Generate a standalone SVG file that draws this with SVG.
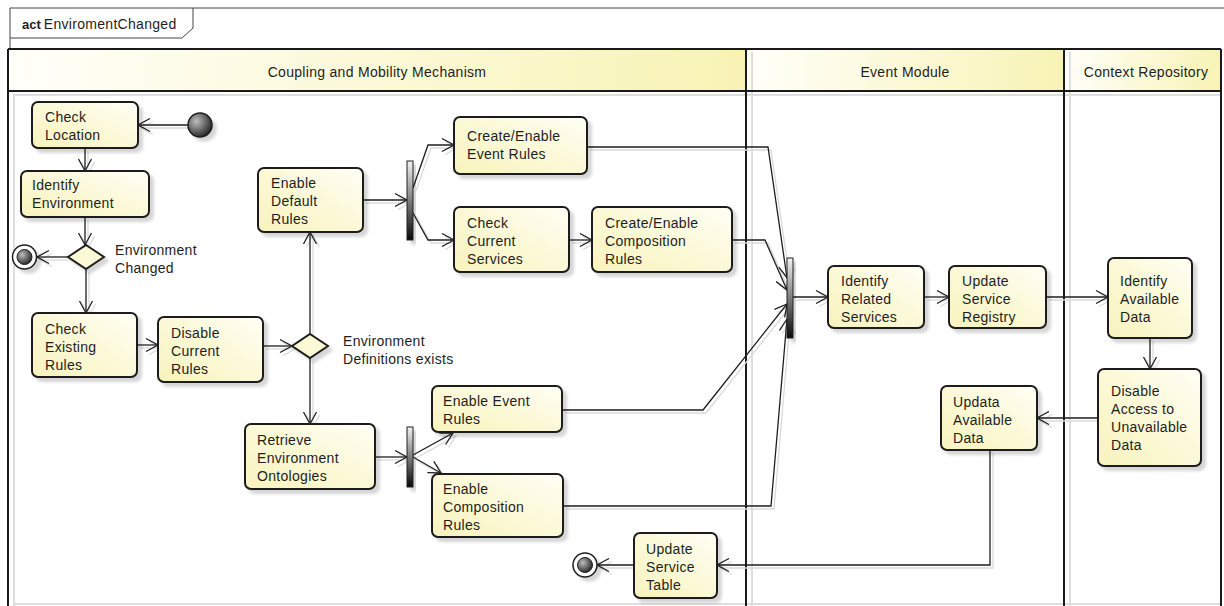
<svg xmlns="http://www.w3.org/2000/svg" xmlns:xlink="http://www.w3.org/1999/xlink" width="1224" height="606" viewBox="0 0 1224 606">
  <style>
    text { font-family: "Liberation Sans", Arial, sans-serif; font-size: 14px; fill: #1e1e1e; letter-spacing: 0.3px; }
    .title-kw { font-weight: bold; letter-spacing: 0; font-size: 13px; }
    .lane-label { text-anchor: middle; }
    .frame { fill: none; stroke: #444; stroke-width: 1; }
    .lane-line { fill: none; stroke: #1a1a1a; stroke-width: 2; }
    .lane-sh { fill: none; stroke: #dedede; stroke-width: 2; }
    .act { fill: url(#nodeFill); stroke: #1e1e1e; stroke-width: 2; filter: url(#drop); }
    .dec { fill: #fcfad6; stroke: #1e1e1e; stroke-width: 2; filter: url(#drop); }
    .bar { fill: url(#barFill); stroke: #1e1e1e; stroke-width: 1; filter: url(#drop); }
    .start { fill: url(#ballFill); stroke: #1e1e1e; stroke-width: 1.5; filter: url(#drop); }
    .end-ring { fill: #fff; stroke: #1e1e1e; stroke-width: 1.5; filter: url(#drop); }
    .end-dot { fill: url(#ballFill); stroke: #1e1e1e; stroke-width: 1; }
    .flow { fill: none; stroke: #1e1e1e; stroke-width: 1.3; marker-end: url(#arrow); }
    .flow-sh { fill: none; stroke: #dadada; stroke-width: 1.3; marker-end: url(#arrowSh); }
  </style>
  <defs>
    <linearGradient id="nodeFill" x1="0" y1="1" x2="1" y2="0">
      <stop offset="0" stop-color="#f8f3bd"/>
      <stop offset="0.55" stop-color="#fcf9d9"/>
      <stop offset="1" stop-color="#fffff6"/>
    </linearGradient>
    <linearGradient id="headFill" x1="0" y1="0" x2="1" y2="0">
      <stop offset="0" stop-color="#fffffa"/>
      <stop offset="1" stop-color="#f8f3b4"/>
    </linearGradient>
    <linearGradient id="barFill" x1="0" y1="0" x2="0" y2="1">
      <stop offset="0" stop-color="#f2f2f2"/>
      <stop offset="1" stop-color="#0a0a0a"/>
    </linearGradient>
    <radialGradient id="ballFill" cx="0.35" cy="0.35" r="0.75">
      <stop offset="0" stop-color="#bdbdbd"/>
      <stop offset="1" stop-color="#1a1a1a"/>
    </radialGradient>
    <filter id="drop" x="-30%" y="-30%" width="170%" height="170%">
      <feDropShadow dx="4" dy="4" stdDeviation="1.5" flood-color="#000" flood-opacity="0.16"/>
    </filter>
    <marker id="arrow" markerUnits="userSpaceOnUse" markerWidth="16" markerHeight="16" viewBox="-14 -8 16 16" refX="0" refY="0" orient="auto" overflow="visible">
      <path d="M-12,-6.5 L0,0 L-12,6.5" fill="none" stroke="#1e1e1e" stroke-width="1.3"/>
    </marker>
    <marker id="arrowSh" markerUnits="userSpaceOnUse" markerWidth="16" markerHeight="16" viewBox="-14 -8 16 16" refX="0" refY="0" orient="auto" overflow="visible">
      <path d="M-12,-6.5 L0,0 L-12,6.5" fill="none" stroke="#dadada" stroke-width="1.3"/>
    </marker>
  </defs>

  <rect width="1224" height="606" fill="#fff"/>

  <!-- diagram frame with name tab -->
  <g id="frame">
    <path class="frame" d="M10,8 H1224 M10,8 V49 M10,38 H182 L193,28 V8"/>
    <text x="22" y="29"><tspan class="title-kw">act</tspan><tspan dx="3">EnviromentChanged</tspan></text>
  </g>

  <!-- swimlanes -->
  <g id="lanes">
    <rect x="8" y="49" width="738" height="42" fill="url(#headFill)"/>
    <rect x="746" y="49" width="318" height="42" fill="url(#headFill)"/>
    <rect x="1064" y="49" width="157" height="42" fill="url(#headFill)"/>
    <path class="lane-sh" d="M14,94 V606 M752,52 V606 M1070,52 V606 M14,95 H1221 M14,604 H1221"/>
    <path class="lane-line" d="M8,49 H1221 M8,49 V606 M1221,49 V606 M8,91 H1221 M746,49 V606 M1064,49 V606"/>
    <text class="lane-label" x="377" y="77">Coupling and Mobility Mechanism</text>
    <text class="lane-label" x="905" y="77">Event Module</text>
    <text class="lane-label" x="1146" y="77">Context Repository</text>
  </g>

  <!-- control flows -->
  <g id="connectors">
    <use xlink:href="#flow-lines" href="#flow-lines" class="flow-sh" transform="translate(3,3)"/>
    <g class="flow">
      <g id="flow-lines">
        <path d="M188,125 H138"/>
        <path d="M85,148 V171"/>
        <path d="M85,217 V245"/>
        <path d="M68,257 H37"/>
        <path d="M86,269 V313"/>
        <path d="M137,345 H158"/>
        <path d="M263,346 H292"/>
        <path d="M310,334 V232"/>
        <path d="M310,358 V424"/>
        <path d="M363,200 H407"/>
        <path d="M413,188 L428,145 H454"/>
        <path d="M413,213 L428,240 H454"/>
        <path d="M569,240 H592"/>
        <path d="M587,147 H768 L787,278"/>
        <path d="M732,240 H765 L787,290"/>
        <path d="M562,410 H703 L787,304"/>
        <path d="M563,506 H771 L787,319"/>
        <path d="M375,457 H407"/>
        <path d="M413,455 L453,433"/>
        <path d="M413,457 L441,473"/>
        <path d="M793,297 H828"/>
        <path d="M924,297 H949"/>
        <path d="M1046,297 H1108"/>
        <path d="M1150,338 V369"/>
        <path d="M1098,418 H1037"/>
        <path d="M990,450 V565 H717"/>
        <path d="M634,565 H597"/>
      </g>
    </g>
  </g>

  <!-- nodes -->
  <g id="initial"><circle class="start" cx="200" cy="125" r="12"/></g>

  <g id="check-location">
    <rect class="act" x="32" y="102" width="106" height="46" rx="6"/>
    <text><tspan x="45" y="122">Check</tspan><tspan x="45" y="140">Location</tspan></text>
  </g>

  <g id="identify-environment">
    <rect class="act" x="21" y="171" width="128" height="46" rx="6"/>
    <text><tspan x="32" y="190">Identify</tspan><tspan x="32" y="208">Environment</tspan></text>
  </g>

  <g id="environment-changed">
    <path class="dec" d="M86,245 L104,257 L86,269 L68,257 Z"/>
    <text><tspan x="115" y="255">Environment</tspan><tspan x="115" y="273">Changed</tspan></text>
  </g>

  <g id="final-top">
    <circle class="end-ring" cx="24.5" cy="257" r="12"/>
    <circle class="end-dot" cx="24.5" cy="257" r="7.5"/>
  </g>

  <g id="check-existing-rules">
    <rect class="act" x="32" y="313" width="105" height="64" rx="6"/>
    <text><tspan x="45" y="334">Check</tspan><tspan x="45" y="352">Existing</tspan><tspan x="45" y="370">Rules</tspan></text>
  </g>

  <g id="disable-current-rules">
    <rect class="act" x="158" y="317" width="105" height="65" rx="6"/>
    <text><tspan x="171" y="338">Disable</tspan><tspan x="171" y="356">Current</tspan><tspan x="171" y="374">Rules</tspan></text>
  </g>

  <g id="definitions-exist">
    <path class="dec" d="M310,334 L328,346 L310,358 L292,346 Z"/>
    <text><tspan x="343" y="346">Environment</tspan><tspan x="343" y="364">Definitions exists</tspan></text>
  </g>

  <g id="enable-default-rules">
    <rect class="act" x="258" y="168" width="105" height="64" rx="6"/>
    <text><tspan x="271" y="188">Enable</tspan><tspan x="271" y="206">Default</tspan><tspan x="271" y="224">Rules</tspan></text>
  </g>

  <g id="fork-default"><rect class="bar" x="407" y="161" width="6" height="79"/></g>

  <g id="create-event-rules">
    <rect class="act" x="454" y="117" width="133" height="57" rx="6"/>
    <text><tspan x="467" y="141">Create/Enable</tspan><tspan x="467" y="159">Event Rules</tspan></text>
  </g>

  <g id="check-current-services">
    <rect class="act" x="454" y="207" width="115" height="65" rx="6"/>
    <text><tspan x="467" y="228">Check</tspan><tspan x="467" y="246">Current</tspan><tspan x="467" y="264">Services</tspan></text>
  </g>

  <g id="create-composition-rules">
    <rect class="act" x="592" y="207" width="140" height="65" rx="6"/>
    <text><tspan x="605" y="228">Create/Enable</tspan><tspan x="605" y="246">Composition</tspan><tspan x="605" y="264">Rules</tspan></text>
  </g>

  <g id="retrieve-ontologies">
    <rect class="act" x="245" y="424" width="130" height="65" rx="6"/>
    <text><tspan x="257" y="445">Retrieve</tspan><tspan x="257" y="463">Environment</tspan><tspan x="257" y="481">Ontologies</tspan></text>
  </g>

  <g id="fork-ontologies"><rect class="bar" x="407" y="427" width="6" height="60"/></g>

  <g id="enable-event-rules">
    <rect class="act" x="432" y="386" width="130" height="46" rx="6"/>
    <text><tspan x="443" y="406">Enable Event</tspan><tspan x="443" y="424">Rules</tspan></text>
  </g>

  <g id="enable-composition-rules">
    <rect class="act" x="432" y="474" width="131" height="63" rx="6"/>
    <text><tspan x="443" y="494">Enable</tspan><tspan x="443" y="512">Composition</tspan><tspan x="443" y="530">Rules</tspan></text>
  </g>

  <g id="update-service-table">
    <rect class="act" x="634" y="533" width="83" height="65" rx="6"/>
    <text><tspan x="646" y="554">Update</tspan><tspan x="646" y="572">Service</tspan><tspan x="646" y="590">Table</tspan></text>
  </g>

  <g id="final-bottom">
    <circle class="end-ring" cx="585" cy="565" r="12"/>
    <circle class="end-dot" cx="585" cy="565" r="7.5"/>
  </g>

  <g id="join-rules"><rect class="bar" x="787" y="258" width="6" height="80"/></g>

  <g id="identify-related-services">
    <rect class="act" x="828" y="266" width="96" height="62" rx="6"/>
    <text><tspan x="841" y="286">Identify</tspan><tspan x="841" y="304">Related</tspan><tspan x="841" y="322">Services</tspan></text>
  </g>

  <g id="update-service-registry">
    <rect class="act" x="949" y="266" width="97" height="62" rx="6"/>
    <text><tspan x="962" y="286">Update</tspan><tspan x="962" y="304">Service</tspan><tspan x="962" y="322">Registry</tspan></text>
  </g>

  <g id="identify-available-data">
    <rect class="act" x="1108" y="258" width="84" height="80" rx="6"/>
    <text><tspan x="1120" y="286">Identify</tspan><tspan x="1120" y="304">Available</tspan><tspan x="1120" y="322">Data</tspan></text>
  </g>

  <g id="disable-access">
    <rect class="act" x="1098" y="369" width="103" height="97" rx="6"/>
    <text><tspan x="1111" y="396">Disable</tspan><tspan x="1111" y="414">Access to</tspan><tspan x="1111" y="432">Unavailable</tspan><tspan x="1111" y="450">Data</tspan></text>
  </g>

  <g id="updata-available-data">
    <rect class="act" x="941" y="386" width="96" height="64" rx="6"/>
    <text><tspan x="953" y="407">Updata</tspan><tspan x="953" y="425">Available</tspan><tspan x="953" y="443">Data</tspan></text>
  </g>
</svg>
